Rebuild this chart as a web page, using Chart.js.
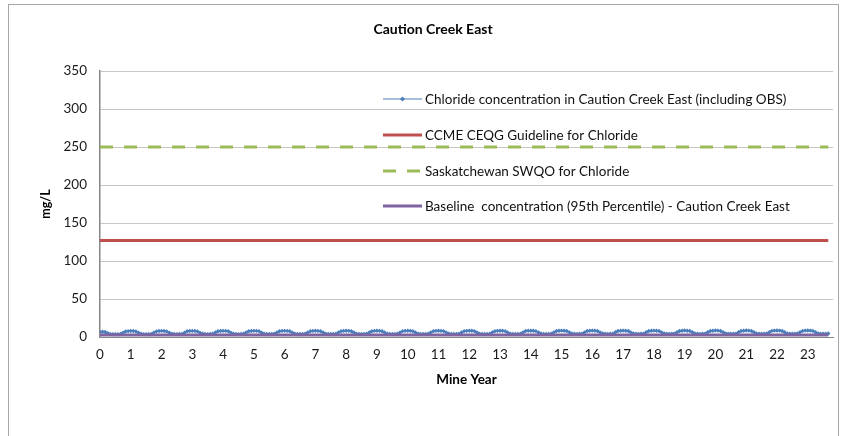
<!DOCTYPE html>
<html>
<head>
<meta charset="utf-8">
<title>Caution Creek East</title>
<script src="https://cdn.jsdelivr.net/npm/chart.js@4"></script>
<style>
    html, body { margin: 0; padding: 0; background: #fff; overflow: hidden; }
    #wrap { position: relative; width: 843px; height: 436px; }
    #frame { position: absolute; left: 8px; top: 4px; width: 829px; height: 480px; border: 1px solid #a6a6a6; }
    canvas { position: absolute; left: 0; top: 0; }
</style>
</head>
<body>
<div id="wrap">
    <div id="frame"></div>
    <canvas id="chart" width="843" height="436"></canvas>
</div>
<script>
// Chart data
const chartTitle = 'Caution Creek East';
const yearTicks = [0, 1, 2, 3, 4, 5, 6, 7, 8, 9, 10, 11, 12, 13, 14, 15, 16, 17, 18, 19, 20, 21, 22, 23];
const yTicks = [0, 50, 100, 150, 200, 250, 300, 350];

// monthly chloride (mg/L), one row per mine year
const chloride = [
    6.8, 7.0, 6.5, 5.0, 4.0, 3.7, 3.6, 3.7, 4.0, 5.6, 7.3, 7.7,
    7.9, 7.8, 7.3, 5.6, 4.2, 3.8, 3.7, 3.8, 4.1, 5.8, 7.4, 7.8,
    8.0, 7.9, 7.4, 5.7, 4.3, 3.9, 3.8, 3.9, 4.1, 5.8, 7.5, 7.9,
    8.0, 7.9, 7.4, 5.7, 4.3, 3.9, 3.8, 3.9, 4.2, 5.9, 7.5, 7.9,
    8.1, 8.0, 7.5, 5.8, 4.3, 3.9, 3.8, 3.9, 4.2, 5.9, 7.5, 7.9,
    8.1, 8.0, 7.5, 5.8, 4.4, 4.0, 3.9, 4.0, 4.2, 5.9, 7.6, 8.0,
    8.1, 8.0, 7.5, 5.8, 4.4, 4.0, 3.9, 4.0, 4.2, 5.9, 7.6, 8.0,
    8.2, 8.0, 7.6, 5.9, 4.4, 4.0, 3.9, 4.0, 4.3, 6.0, 7.6, 8.0,
    8.2, 8.1, 7.6, 5.9, 4.4, 4.0, 3.9, 4.0, 4.3, 6.0, 7.6, 8.0,
    8.2, 8.1, 7.6, 5.9, 4.5, 4.0, 3.9, 4.0, 4.3, 6.0, 7.7, 8.1,
    8.2, 8.1, 7.6, 5.9, 4.5, 4.1, 4.0, 4.1, 4.3, 6.0, 7.7, 8.1,
    8.3, 8.1, 7.7, 6.0, 4.5, 4.1, 4.0, 4.1, 4.3, 6.0, 7.7, 8.1,
    8.3, 8.2, 7.7, 6.0, 4.5, 4.1, 4.0, 4.1, 4.4, 6.1, 7.7, 8.1,
    8.3, 8.2, 7.7, 6.0, 4.5, 4.1, 4.0, 4.1, 4.4, 6.1, 7.8, 8.2,
    8.3, 8.2, 7.7, 6.0, 4.6, 4.1, 4.0, 4.1, 4.4, 6.1, 7.8, 8.2,
    8.4, 8.2, 7.8, 6.1, 4.6, 4.2, 4.1, 4.2, 4.4, 6.1, 7.8, 8.2,
    8.4, 8.3, 7.8, 6.1, 4.6, 4.2, 4.1, 4.2, 4.4, 6.2, 7.8, 8.2,
    8.4, 8.3, 7.8, 6.1, 4.6, 4.2, 4.1, 4.2, 4.5, 6.2, 7.9, 8.3,
    8.4, 8.3, 7.8, 6.1, 4.6, 4.2, 4.1, 4.2, 4.5, 6.2, 7.9, 8.3,
    8.5, 8.3, 7.9, 6.2, 4.7, 4.2, 4.1, 4.2, 4.5, 6.2, 7.9, 8.3,
    8.5, 8.4, 7.9, 6.2, 4.7, 4.3, 4.2, 4.3, 4.5, 6.3, 7.9, 8.3,
    8.5, 8.4, 7.9, 6.2, 4.7, 4.3, 4.2, 4.3, 4.6, 6.3, 8.0, 8.4,
    8.5, 8.4, 7.9, 6.2, 4.7, 4.3, 4.2, 4.3, 4.6, 6.3, 8.0, 8.4,
    8.6, 8.4, 8.0, 6.3, 4.8, 4.3, 4.2, 4.3, 4.6
];
const monthsPerYear = 12;
const ccmeGuideline = 127;     // CCME CEQG guideline
const swqoGuideline = 250;     // Saskatchewan SWQO
const baselineP95 = 2.5;       // 95th percentile baseline

const seriesLabels = [
    'Chloride concentration in Caution Creek East (including OBS)',
    'CCME CEQG Guideline for Chloride',
    'Saskatchewan SWQO for Chloride',
    'Baseline  concentration (95th Percentile) - Caution Creek East'
];
const colors = ['#4a7ebb', '#c0504d', '#9bbb59', '#8064a2'];

const FONT = 'Lato, "Liberation Sans", sans-serif';

document.addEventListener('DOMContentLoaded', () => {
    const chloridePoints = chloride.map((v, i) => ({ x: i / monthsPerYear, y: v }));
    const lastX = (chloride.length - 1) / monthsPerYear;
    const flat = (v) => [{ x: 0, y: v }, { x: lastX, y: v }];

    // title + legend drawn inside the plot, like the spreadsheet chart
    const overlayPlugin = {
        id: 'overlay',
        afterDraw(chart) {
            const ctx = chart.ctx;
            ctx.save();
            ctx.fillStyle = '#000';
            ctx.font = 'bold 14px ' + FONT;
            ctx.textAlign = 'center';
            ctx.textBaseline = 'middle';
            ctx.fillText(chartTitle, 433, 29);

            const x0 = 383, x1 = 422, tx = 425;
            const rows = [99, 135, 171, 206];
            ctx.textAlign = 'left';
            ctx.font = '13.5px ' + FONT;
            rows.forEach((y, i) => {
                ctx.strokeStyle = colors[i];
                ctx.lineWidth = i === 0 ? 1 : 3;
                ctx.setLineDash(i === 2 ? [13, 11] : []);
                ctx.beginPath();
                ctx.moveTo(x0, y);
                ctx.lineTo(x1, y);
                ctx.stroke();
                ctx.setLineDash([]);
                if (i === 0) {
                    ctx.fillStyle = colors[0];
                    ctx.beginPath();
                    const mx = (x0 + x1) / 2;
                    ctx.moveTo(mx, y - 2.5);
                    ctx.lineTo(mx + 2.5, y);
                    ctx.lineTo(mx, y + 2.5);
                    ctx.lineTo(mx - 2.5, y);
                    ctx.closePath();
                    ctx.fill();
                }
                ctx.fillStyle = '#111';
                ctx.fillText(seriesLabels[i], tx, y + 0.5);
            });
            ctx.restore();
        }
    };

    new Chart(document.getElementById('chart').getContext('2d'), {
        type: 'line',
        data: {
            datasets: [{
                label: seriesLabels[0],
                data: chloridePoints,
                borderColor: colors[0],
                backgroundColor: colors[0],
                borderWidth: 1,
                pointStyle: 'rectRot',
                pointRadius: 2.2,
                pointBorderWidth: 0,
                order: 4
            }, {
                label: seriesLabels[1],
                data: flat(ccmeGuideline),
                borderColor: colors[1],
                borderWidth: 3,
                pointRadius: 0,
                order: 3
            }, {
                label: seriesLabels[2],
                data: flat(swqoGuideline),
                borderColor: colors[2],
                borderWidth: 3,
                borderDash: [13, 11],
                pointRadius: 0,
                order: 2
            }, {
                label: seriesLabels[3],
                data: flat(baselineP95),
                borderColor: colors[3],
                borderWidth: 3,
                pointRadius: 0,
                order: 1
            }]
        },
        options: {
            responsive: false,
            animation: false,
            devicePixelRatio: 1,
            layout: { padding: { top: 71, right: 10, bottom: 0, left: 0 } },
            plugins: {
                legend: { display: false },
                title: { display: false },
                tooltip: { enabled: false }
            },
            scales: {
                x: {
                    type: 'linear',
                    min: 0,
                    max: 23.82,
                    afterBuildTicks: (scale) => {
                        scale.ticks = yearTicks.map(v => ({ value: v }));
                    },
                    afterFit: (scale) => { scale.height = 99; },
                    grid: { display: false, drawTicks: false, tickLength: 0 },
                    border: { display: true, color: '#868686', width: 1 },
                    ticks: {
                        color: '#1a1a1a',
                        font: { family: FONT, size: 13.5 },
                        padding: 10,
                        maxRotation: 0,
                        autoSkip: false
                    },
                    title: {
                        display: true,
                        text: 'Mine Year',
                        color: '#000',
                        font: { family: FONT, size: 13.5, weight: 'bold' },
                        padding: { top: 0, bottom: 48 }
                    }
                },
                y: {
                    min: 0,
                    max: 350,
                    afterBuildTicks: (scale) => {
                        scale.ticks = yTicks.map(v => ({ value: v }));
                    },
                    afterFit: (scale) => { scale.width = 100; },
                    grid: { color: '#c6c6c6', lineWidth: 1, drawTicks: false, tickLength: 0 },
                    border: { display: true, color: '#868686', width: 1.5 },
                    ticks: {
                        color: '#1a1a1a',
                        font: { family: FONT, size: 13.5 },
                        padding: 13
                    },
                    title: {
                        display: true,
                        text: 'mg/L',
                        color: '#000',
                        font: { family: FONT, size: 12.5, weight: 'bold' },
                        padding: { top: 38, bottom: 0 }
                    }
                }
            }
        },
        plugins: [overlayPlugin]
    });
});
</script>
</body>
</html>
